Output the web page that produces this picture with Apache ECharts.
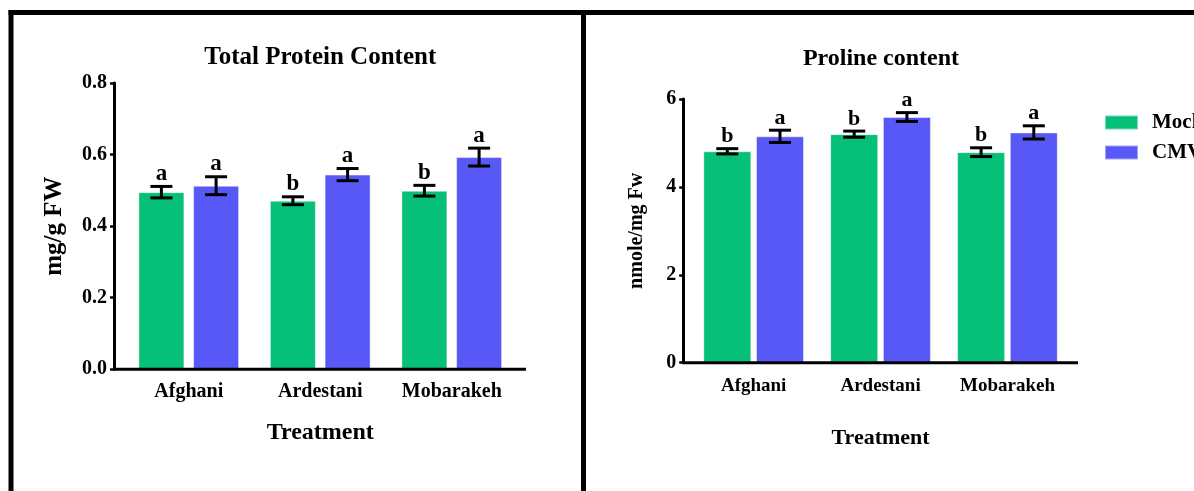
<!DOCTYPE html>
<html>
<head>
<meta charset="utf-8">
<title>Total Protein and Proline content</title>
<script src="https://cdn.jsdelivr.net/npm/echarts@6/dist/echarts.min.js"></script>
<style>
  html, body { margin: 0; padding: 0; background: #fff; }
  #chart { width: 1194px; height: 491px; }
</style>
</head>
<body>
<div id="chart"></div>
<script>
// ---- data ----
const categories = ['Afghani', 'Ardestani', 'Mobarakeh'];

const proteinMock = [0.495, 0.471, 0.499];
const proteinCMV = [0.513, 0.544, 0.593];
const proteinMockErr = [0.016, 0.011, 0.015];
const proteinCMVErr = [0.025, 0.017, 0.025];
const proteinMockLetters = ['a', 'b', 'b'];
const proteinCMVLetters = ['a', 'a', 'a'];
const proteinTicks = [0, 0.8, 0.2]; // min, max, step

const prolineMock = [4.81, 5.20, 4.79];
const prolineCMV = [5.15, 5.59, 5.24];
const prolineMockErr = [0.06, 0.07, 0.10];
const prolineCMVErr = [0.14, 0.10, 0.15];
const prolineMockLetters = ['b', 'b', 'b'];
const prolineCMVLetters = ['a', 'a', 'a'];
const prolineTicks = [0, 6, 2];

// ---- styling / layout ----
const FONT = '"Liberation Serif", "Times New Roman", serif';
const GREEN = '#06BF79';
const BLUE = '#5858F7';

const L = { left: 123, top: 83, width: 394.5, height: 286.3, axisOffset: 9, axisEnd: 526, barWidth: 46, gap: 8.7 };
const R = { left: 690.2, top: 99, width: 380.7, height: 263.7, axisOffset: 7, axisEnd: 1078, barWidth: 48, gap: 4.7 };

function errorBars(means, errs, letters, offset, xi, letterSize) {
  return {
    type: 'custom',
    xAxisIndex: xi, yAxisIndex: xi,
    z: 10,
    silent: true,
    data: means.map((m, i) => [i, m, errs[i]]),
    encode: { x: 0, y: 1 },
    renderItem: function (params, api) {
      const i = api.value(0), v = api.value(1), e = api.value(2);
      const hi = api.coord([i, v + e]);
      const lo = api.coord([i, v - e]);
      const cx = hi[0] + offset;
      const cap = 11;
      const st = { stroke: '#000', lineWidth: 3 };
      return {
        type: 'group',
        children: [
          { type: 'line', shape: { x1: cx, y1: hi[1], x2: cx, y2: lo[1] }, style: st },
          { type: 'line', shape: { x1: cx - cap, y1: hi[1], x2: cx + cap, y2: hi[1] }, style: st },
          { type: 'line', shape: { x1: cx - cap, y1: lo[1], x2: cx + cap, y2: lo[1] }, style: st },
          { type: 'text', style: { text: letters[params.dataIndex], x: cx, y: hi[1] - 1,
              align: 'center', verticalAlign: 'bottom', fill: '#000',
              font: 'bold ' + letterSize + 'px ' + FONT } }
        ]
      };
    }
  };
}

function barSeries(name, values, color, G, xi) {
  return {
    type: 'bar', name: name, data: values,
    xAxisIndex: xi, yAxisIndex: xi,
    barWidth: G.barWidth,
    barGap: (G.gap / G.barWidth * 100).toFixed(1) + '%',
    itemStyle: { color: color, borderColor: 'rgba(255,255,255,0.45)', borderWidth: 1 },
    emphasis: { disabled: true }
  };
}

function yAxis(G, ticks, gridIndex, name, nameSize, nameGap, labelSize, decimals) {
  return {
    type: 'value', gridIndex: gridIndex,
    min: ticks[0], max: ticks[1], interval: ticks[2],
    offset: G.axisOffset,
    name: name, nameLocation: 'middle', nameRotate: 90, nameGap: nameGap,
    nameTextStyle: { fontFamily: FONT, fontWeight: 'bold', fontSize: nameSize, color: '#000' },
    axisLine: { show: true, lineStyle: { color: '#000', width: 3 } },
    axisTick: { show: true, length: 4, lineStyle: { color: '#000', width: 2.5 } },
    axisLabel: { margin: 7, fontFamily: FONT, fontWeight: 'bold', fontSize: labelSize, color: '#000',
      formatter: v => v.toFixed(decimals) },
    splitLine: { show: false }
  };
}

function xAxis(gridIndex, labelSize, labelMargin, nameSize, nameGap) {
  return {
    type: 'category', gridIndex: gridIndex, data: categories,
    name: 'Treatment', nameLocation: 'middle', nameGap: nameGap,
    nameTextStyle: { fontFamily: FONT, fontWeight: 'bold', fontSize: nameSize, color: '#000' },
    axisLine: { show: false }, axisTick: { show: false },
    axisLabel: { margin: labelMargin, fontFamily: FONT, fontWeight: 'bold', fontSize: labelSize, color: '#000' }
  };
}

function hLine(x1, x2, y, w) {
  return { type: 'line', shape: { x1: x1, y1: y, x2: x2, y2: y }, style: { stroke: '#000', lineWidth: w }, z: 5 };
}
function vLine(x, y1, y2, w) {
  return { type: 'line', shape: { x1: x, y1: y1, x2: x, y2: y2 }, style: { stroke: '#000', lineWidth: w }, z: 5 };
}
function titleText(text, x, y, size) {
  return { type: 'text', x: x, y: y,
    style: { text: text, align: 'center', verticalAlign: 'middle', fill: '#000',
      font: 'bold ' + size + 'px ' + FONT } };
}

const chart = echarts.init(document.getElementById('chart'), null, { renderer: 'canvas' });

const option = {
  backgroundColor: '#fff',
  animation: false,
  grid: [
    { left: L.left, top: L.top, width: L.width, height: L.height },
    { left: R.left, top: R.top, width: R.width, height: R.height }
  ],
  legend: {
    data: ['Mock', 'CMV'],
    orient: 'vertical', left: 1099, top: 107,
    icon: 'rect', itemWidth: 33, itemHeight: 14, itemGap: 9,
    textStyle: { fontFamily: FONT, fontWeight: 'bold', fontSize: 21, color: '#000', padding: [0, 0, 0, 9] },
    selectedMode: false
  },
  xAxis: [
    xAxis(0, 20, 13, 24, 51),
    xAxis(1, 19, 14, 22, 65)
  ],
  yAxis: [
    yAxis(L, proteinTicks, 0, 'mg/g FW', 25, 47, 20, 1),
    yAxis(R, prolineTicks, 1, 'nmole/mg Fw', 20, 36, 20, 0)
  ],
  series: [
    barSeries('Mock', proteinMock, GREEN, L, 0),
    barSeries('CMV', proteinCMV, BLUE, L, 0),
    barSeries('Mock', prolineMock, GREEN, R, 1),
    barSeries('CMV', prolineCMV, BLUE, R, 1),
    errorBars(proteinMock, proteinMockErr, proteinMockLetters, -(L.barWidth + L.gap) / 2, 0, 23),
    errorBars(proteinCMV, proteinCMVErr, proteinCMVLetters, (L.barWidth + L.gap) / 2, 0, 23),
    errorBars(prolineMock, prolineMockErr, prolineMockLetters, -(R.barWidth + R.gap) / 2, 1, 22),
    errorBars(prolineCMV, prolineCMVErr, prolineCMVLetters, (R.barWidth + R.gap) / 2, 1, 22)
  ],
  graphic: [
    // panel frame
    hLine(8.5, 1194, 12.5, 5),
    vLine(11, 10, 491, 5),
    vLine(583.5, 10, 491, 5),
    // category axis baselines, extended slightly past the bars
    hLine(L.left - L.axisOffset, L.axisEnd, L.top + L.height, 3),
    hLine(R.left - R.axisOffset, R.axisEnd, R.top + R.height, 3),
    // panel titles
    titleText('Total Protein Content', L.left + L.width / 2, 58, 25),
    titleText('Proline content', 881, 59, 24)
  ]
};

chart.setOption(option);
</script>
</body>
</html>
